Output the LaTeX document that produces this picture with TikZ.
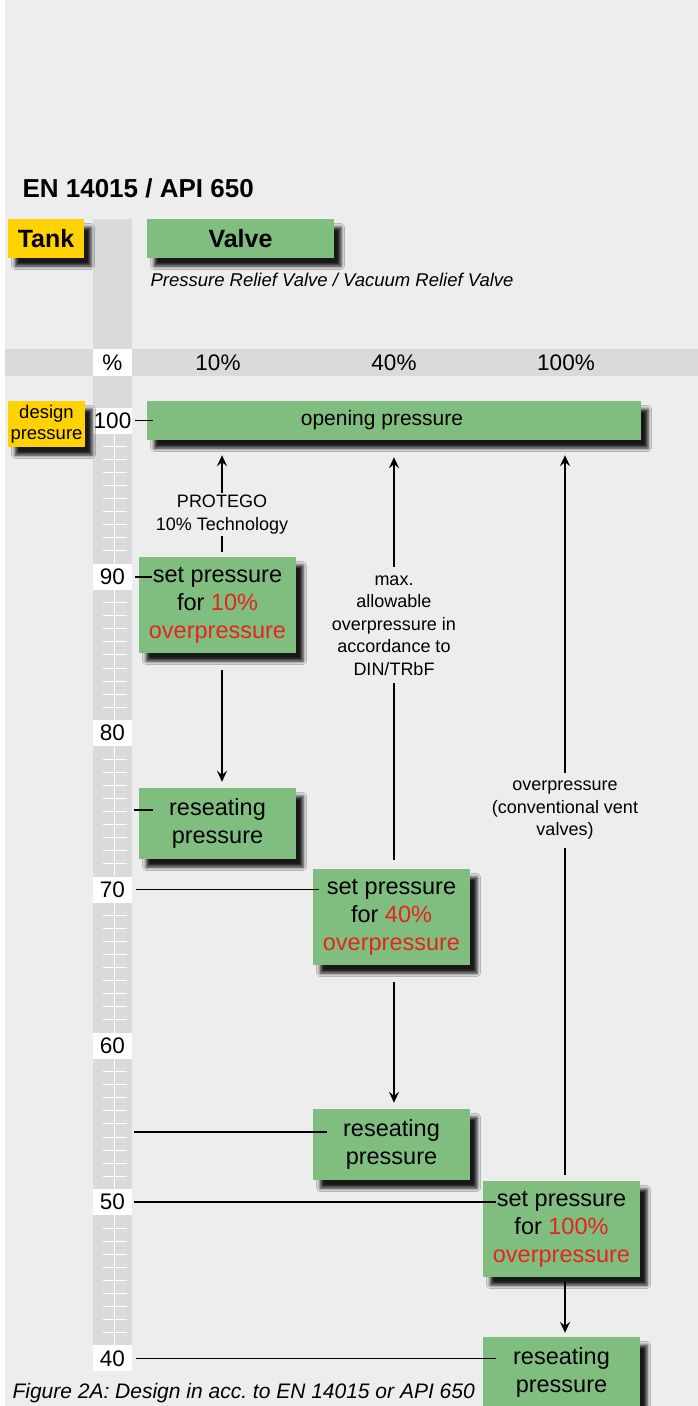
\documentclass[tikz,border=0pt]{standalone}
\usepackage{fontspec}
\setmainfont{Liberation Sans}
\usetikzlibrary{arrows.meta,shadows.blur}
\definecolor{bggray}{HTML}{ECEDEC}
\definecolor{bandgray}{HTML}{D9DADB}
\definecolor{valvegreen}{HTML}{80BE7F}
\definecolor{tankyellow}{HTML}{FFD200}
\definecolor{overred}{HTML}{E52421}
\newcommand{\fsz}[2]{\fontsize{#1}{#2}\selectfont}
\newcommand{\redtxt}[1]{{\color{overred}#1}}

\begin{document}
\begin{tikzpicture}[x=1pt,y=1pt,yscale=-1,xscale=1,
	boxshadow/.style={blur shadow={shadow xshift=7pt,shadow yshift=-8pt,shadow blur radius=3.5pt,shadow opacity=90}},
	greenbox/.style={fill=valvegreen,boxshadow,inner sep=0pt,align=center,font=\fsz{23.5}{28}},
	yellowbox/.style={fill=tankyellow,boxshadow,inner sep=0pt,align=center},
	scalelabel/.style={fill=white,minimum width=39pt,minimum height=26pt,inner sep=0pt,font=\fsz{22.5}{26}},
	scaletick/.style={white,line width=1pt},
	linkline/.style={line width=1.9pt},
	flowarrow/.style={line width=1.9pt,-{Stealth[length=11pt,width=10pt,inset=4pt]}},
	note/.style={fill=bggray,align=center,inner xsep=2pt,inner ysep=8pt,font=\fsz{18}{22.5}}]
	\useasboundingbox (0,0) rectangle (698,1406);

	% Background
	\fill[white] (0,0) rectangle (698,1406);
	\fill[bggray] (5,0) rectangle (698,1406);
	\fill[bandgray] (5,349) rectangle (698,376);
	\fill[bandgray] (93,219) rectangle (132,1346);

	% Scale ticks
	\foreach \k in {0,...,5}{
		\draw[scaletick] (114.5,433.5+156.33*\k) -- (114.5,563.8+156.33*\k);
		\foreach \j in {1,...,9}
			\draw[scaletick] (102.5,433.5+156.33*\k+13.03*\j) -- (126.5,433.5+156.33*\k+13.03*\j);
	}

	% Scale labels
	\foreach \v [count=\k from 0] in {100,90,...,40}
		\node[scalelabel] (l\v) at (112.5,420.5+156.33*\k) {\v};

	% Text Node
	\node[anchor=base west,font=\bfseries\fsz{26}{30}] (title) at (19,197) {EN 14015 / API 650};
	% Text Node
	\node[yellowbox,minimum width=76pt,minimum height=39pt,font=\bfseries\fsz{25}{30}] (tank) at (46,238.5) {Tank};
	% Text Node
	\node[greenbox,minimum width=187pt,minimum height=39pt,font=\bfseries\fsz{25}{30}] (valve) at (240.5,238.5) {Valve};
	% Text Node
	\node[anchor=base west,font=\itshape\fsz{18.5}{22}] (kind) at (147,286) {Pressure Relief Valve / Vacuum Relief Valve};

	% Header row
	\node[scalelabel,minimum height=27pt,font=\fsz{22.5}{27}] (pct) at (112.5,362.5) {\%};
	\node[font=\fsz{22.5}{27}] (h10) at (218,363) {10\%};
	\node[font=\fsz{22.5}{27}] (h40) at (394,363) {40\%};
	\node[font=\fsz{22.5}{27}] (h100) at (566,363) {100\%};

	% Text Node
	\node[yellowbox,minimum width=77pt,minimum height=46pt,font=\fsz{18.5}{21}] (design) at (46.5,424) {design\\pressure};
	% Text Node
	\node[greenbox,minimum width=494pt,minimum height=39pt,font=\fsz{21}{25}] (open) at (394,420.5) {\hspace*{-24pt}opening pressure};

	% Valve boxes
	\node[greenbox,minimum width=157pt,minimum height=96pt] (set10) at (217.5,605) {set pressure\\for \redtxt{10\%}\\\redtxt{overpressure}};
	\node[greenbox,minimum width=157pt,minimum height=71pt] (reseat10) at (217.5,823.5) {reseating\\pressure};
	\node[greenbox,minimum width=157pt,minimum height=96pt] (set40) at (391.5,917) {set pressure\\for \redtxt{40\%}\\\redtxt{overpressure}};
	\node[greenbox,minimum width=157pt,minimum height=71pt] (reseat40) at (391.5,1144.5) {reseating\\pressure};
	\node[greenbox,minimum width=157pt,minimum height=96pt] (set100) at (561.5,1229) {set pressure\\for \redtxt{100\%}\\\redtxt{overpressure}};
	\node[greenbox,minimum width=157pt,minimum height=71pt] (reseat100) at (561.5,1372.5) {reseating\\pressure};

	% Text Node
	\node[anchor=base west,font=\itshape\fsz{21}{25}] (caption) at (9,1398) {Figure 2A: Design in acc.\ to EN 14015 or API 650};

	% Arrow columns
	\coordinate (c10) at (222,0);
	\coordinate (c40) at (394,0);
	\coordinate (c100) at (565,0);
	\coordinate (r10) at (134,810);
	\coordinate (r40) at (134,1132);

	% Connection
	\draw[linkline] (l100.east) ++(3,0) -- (open.west |- l100) -- ++(6,0);
	% Connection
	\draw[linkline] (l90.east) ++(3,0) -- (set10.west |- l90) -- ++(13,0);
	% Connection
	\draw[linkline] (r10) -- (reseat10.west |- r10) -- ++(14,0);
	% Connection
	\draw[linkline] (l70.east) ++(4,0) -- (set40.west |- l70) -- ++(6,0);
	% Connection
	\draw[linkline] (r40) -- (reseat40.west |- r40) -- ++(14,0);
	% Connection
	\draw[linkline] (l50.east) ++(2,0) -- (set100.west |- l50) -- ++(13,0);
	% Connection
	\draw[linkline] (l40.east) ++(4,0) -- (reseat100.west |- l40) -- ++(13,0);

	% Arrows
	\draw[flowarrow,shorten <=5pt,shorten >=15pt] (set10.north -| c10) -- node[note,pos=0.363,inner ysep=2pt] {PROTEGO\\10\% Technology} (open.south -| c10);
	\draw[flowarrow,shorten <=17pt,shorten >=6pt] (set10.south -| c10) -- (reseat10.north -| c10);
	\draw[flowarrow,shorten <=9pt,shorten >=17pt] (set40.north -| c40) -- node[note,pos=0.568] {max.\\allowable\\overpressure in\\accordance to\\DIN/TRbF} (open.south -| c40);
	\draw[flowarrow,shorten <=17pt,shorten >=6pt] (set40.south -| c40) -- (reseat40.north -| c40);
	\draw[flowarrow,shorten <=6pt,shorten >=15pt] (set100.north -| c100) -- node[note,pos=0.5] {overpressure\\(conventional vent\\valves)} (open.south -| c100);
	\draw[flowarrow,shorten <=5pt,shorten >=4pt] (set100.south -| c100) -- (reseat100.north -| c100);

\end{tikzpicture}
\end{document}
